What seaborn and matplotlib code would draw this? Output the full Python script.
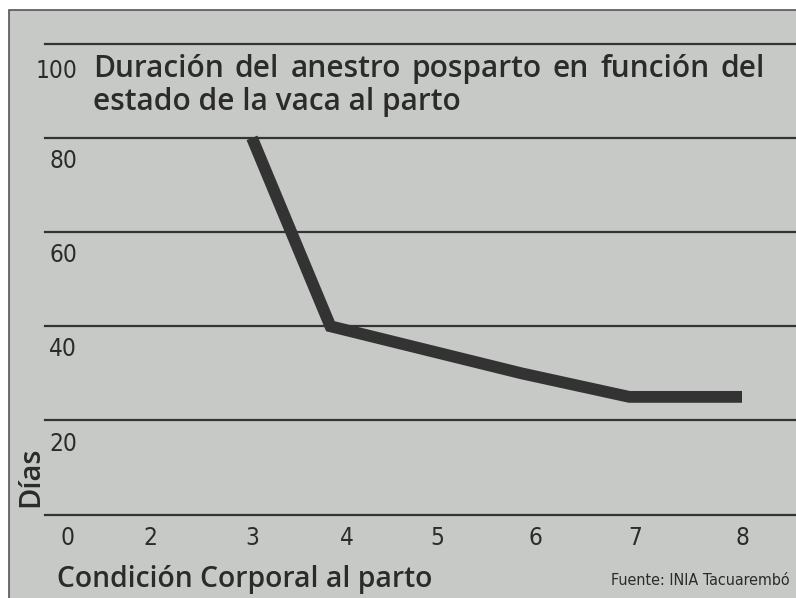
import matplotlib
matplotlib.use("Agg")
import matplotlib.pyplot as plt
import seaborn as sns
import numpy as np
from matplotlib.patches import Rectangle

# ---- data ----
condicion = [3, 3.8, 5.75, 6.85, 8]
dias = [80, 40, 30, 25, 25]
y_ticks = [20, 40, 60, 80, 100]
grid_vals = [0, 20, 40, 60, 80, 100]
x_tick_labels = ["0", "2", "3", "4", "5", "6", "7", "8"]
title_lines = ["Duración del anestro posparto en función del",
               "estado de la vaca al parto"]
x_label = "Condición Corporal al parto"
y_label = "Días"
source = "Fuente: INIA Tacuarembó"

# ---- layout ----
W, H = 796, 598
fig = plt.figure(figsize=(W / 100, H / 100), dpi=100)
fig.patch.set_facecolor("white")

BOX = "#c6c9c5"
INK = "#2b2b2b"

def fx(px):
    return px / W

def fy(py):
    return 1 - py / H

box = Rectangle((fx(9), -0.01), 1 - fx(9) + 0.01, fy(10) + 0.01, transform=fig.transFigure,
                facecolor=BOX, edgecolor="#555555", linewidth=1.2, zorder=-5)
fig.patches.append(box)

ax_left, ax_right = 45, 796
ax_top, ax_bot = 43.7, 514.6
ax = fig.add_axes([fx(ax_left), fy(ax_bot), fx(ax_right) - fx(ax_left), fy(ax_top) - fy(ax_bot)])
ax.set_zorder(2)
ax.set_facecolor("none")
for s in ax.spines.values():
    s.set_visible(False)

# x scale: 3 -> 252px, 8 -> 742px
ppu = (742 - 252) / 5
xl = 3 - (252 - ax_left) / ppu
xr = 8 + (ax_right - 742) / ppu
ax.set_xlim(xl, xr)
ax.set_ylim(0, 100)

for v in grid_vals:
    ax.axhline(v, color="#333333", linewidth=1.6, zorder=1, clip_on=False)

sns.lineplot(x=condicion, y=dias, ax=ax, color="#333333", linewidth=8.5, zorder=3,
             solid_capstyle="butt", solid_joinstyle="miter")

ax.set_xticks([])
ax.set_yticks([])
ax.set_xlabel("")
ax.set_ylabel("")

narrow = dict(family="DejaVu Sans", stretch="condensed")

# y tick labels (below each gridline, right aligned)
for v in y_ticks:
    ax.annotate(str(v), xy=((77 - ax_left) / (ax_right - ax_left), v),
                xycoords=("axes fraction", "data"),
                xytext=(0, -8 if v != 100 else -11), textcoords="offset points",
                ha="right", va="top", fontsize=17.5, color=INK, **narrow)

# x tick labels
x_tick_px = [67, 150, 252, 347, 437, 535, 635, 742]
for lab, px in zip(x_tick_labels, x_tick_px):
    fig.text(fx(px), fy(545), lab, ha="center", va="baseline", fontsize=17.5, color=INK, **narrow)

geo = dict(family=["Open Sans", "DejaVu Sans"], fontweight="semibold", color=INK)
TFS = 21.5
renderer = fig.canvas.get_renderer()

# first title line justified between x=93 and x=765
words = title_lines[0].split(" ")
tmp = [fig.text(0, 0, w, fontsize=TFS, **geo) for w in words]
widths = [t.get_window_extent(renderer).width for t in tmp]
for t in tmp:
    t.remove()
gap = (765 - 93 - sum(widths)) / (len(words) - 1)
xpos = 93
for w, wd in zip(words, widths):
    fig.text(fx(xpos), fy(77), w, ha="left", va="baseline", fontsize=TFS, **geo)
    xpos += wd + gap

fig.text(fx(93), fy(110), title_lines[1], ha="left", va="baseline", fontsize=TFS, **geo)
fig.text(fx(57), fy(587), x_label, ha="left", va="baseline", fontsize=20.3, **geo)
fig.text(fx(31), fy(477), y_label, ha="center", va="center", rotation=90, fontsize=21, **geo)
fig.text(fx(790), fy(585), source, ha="right", va="baseline", fontsize=11.5, color=INK, **narrow)

fig.savefig("out.png", dpi=100, facecolor=fig.get_facecolor())
